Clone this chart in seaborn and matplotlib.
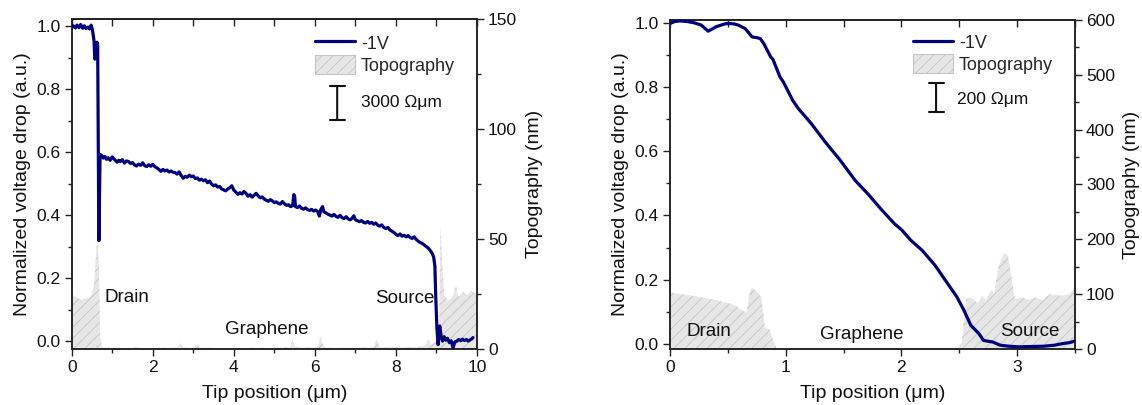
import matplotlib
matplotlib.use("Agg")
import matplotlib.pyplot as plt
import seaborn as sns
from matplotlib.patches import Patch
from matplotlib.ticker import MultipleLocator

# ---------------- data: left panel ----------------
pos_a = [0.00, 0.04, 0.09, 0.13, 0.18, 0.22, 0.27, 0.31, 0.35, 0.40, 0.44, 0.48, 0.51,
         0.55, 0.57, 0.60, 0.62, 0.64, 0.67, 0.70,
         0.74, 0.78, 0.82, 0.86, 0.90, 0.95, 1.00, 1.04, 1.08, 1.12, 1.16, 1.20, 1.25,
         1.30, 1.35, 1.40, 1.45, 1.50, 1.55, 1.60, 1.65, 1.70, 1.75, 1.80, 1.85, 1.90,
         1.95, 2.00, 2.05, 2.10, 2.15, 2.20, 2.25, 2.30, 2.35, 2.40, 2.45, 2.50, 2.55,
         2.60, 2.65, 2.70, 2.75, 2.80, 2.85, 2.90, 2.95, 3.00, 3.05, 3.10, 3.15, 3.20,
         3.25, 3.30, 3.35, 3.40, 3.45, 3.50, 3.55, 3.60, 3.65, 3.70, 3.75, 3.80, 3.85,
         3.90, 3.95, 4.00, 4.05, 4.10, 4.15, 4.20, 4.25, 4.30, 4.35, 4.40, 4.45, 4.50,
         4.55, 4.60, 4.65, 4.70, 4.75, 4.80, 4.85, 4.90, 4.95, 5.00, 5.05, 5.10, 5.15,
         5.20, 5.25, 5.30, 5.35, 5.40, 5.45, 5.48, 5.50, 5.52, 5.57, 5.62, 5.67, 5.72,
         5.77, 5.82, 5.87, 5.92, 5.97, 6.02, 6.07, 6.11, 6.15, 6.19, 6.22, 6.27, 6.32,
         6.37, 6.42, 6.47, 6.52, 6.57, 6.62, 6.67, 6.72, 6.77, 6.82, 6.87, 6.92, 6.96,
         7.00, 7.05, 7.10, 7.15, 7.20, 7.25, 7.30, 7.35, 7.40, 7.45, 7.50, 7.55, 7.60,
         7.65, 7.70, 7.75, 7.80, 7.85, 7.90, 7.95, 8.00, 8.05, 8.10, 8.15, 8.20, 8.25,
         8.30, 8.35, 8.40, 8.45, 8.50, 8.55, 8.60, 8.65, 8.70, 8.75, 8.80, 8.85, 8.90,
         8.93, 8.96, 8.98, 9.01, 9.04, 9.08, 9.12, 9.15, 9.19, 9.23, 9.27, 9.32, 9.36,
         9.41, 9.45, 9.50, 9.55, 9.60, 9.64, 9.69, 9.74, 9.78, 9.83, 9.87, 9.90]
vdrop_a = [0.995, 1.002, 0.995, 1.004, 0.996, 1.006, 0.994, 1.002, 0.993, 0.998, 0.992, 1.004, 0.990,
           0.955, 0.896, 0.930, 0.950, 0.945, 0.320, 0.594,
           0.590, 0.582, 0.587, 0.578, 0.583, 0.575, 0.586, 0.580, 0.574, 0.569, 0.575, 0.571, 0.577,
           0.566, 0.573, 0.571, 0.565, 0.568, 0.560, 0.557, 0.563, 0.559, 0.567, 0.558, 0.555, 0.561,
           0.556, 0.562, 0.555, 0.551, 0.546, 0.540, 0.546, 0.541, 0.544, 0.538, 0.541, 0.537, 0.536,
           0.531, 0.538, 0.527, 0.518, 0.524, 0.521, 0.528, 0.523, 0.525, 0.517, 0.519, 0.512, 0.515,
           0.510, 0.513, 0.504, 0.509, 0.500, 0.494, 0.497, 0.490, 0.492, 0.484, 0.481, 0.478, 0.484,
           0.488, 0.494, 0.480, 0.474, 0.467, 0.472, 0.468, 0.476, 0.470, 0.461, 0.466, 0.458, 0.464,
           0.470, 0.462, 0.456, 0.459, 0.452, 0.448, 0.445, 0.450, 0.446, 0.441, 0.443, 0.438, 0.436,
           0.444, 0.437, 0.432, 0.434, 0.428, 0.431, 0.466, 0.462, 0.428, 0.425, 0.430, 0.423, 0.420,
           0.424, 0.418, 0.416, 0.419, 0.414, 0.417, 0.412, 0.398, 0.420, 0.428, 0.412, 0.408, 0.404,
           0.401, 0.398, 0.403, 0.397, 0.394, 0.400, 0.393, 0.390, 0.396, 0.389, 0.386, 0.391, 0.399,
           0.386, 0.383, 0.380, 0.384, 0.378, 0.376, 0.381, 0.375, 0.378, 0.372, 0.376, 0.369, 0.366,
           0.370, 0.362, 0.358, 0.362, 0.354, 0.350, 0.346, 0.340, 0.336, 0.341, 0.334, 0.337, 0.332,
           0.336, 0.330, 0.327, 0.332, 0.324, 0.318, 0.314, 0.311, 0.306, 0.301, 0.296, 0.288, 0.278,
           0.268, 0.240, 0.150, 0.043, -0.010, 0.049, 0.012, 0.001, 0.015, 0.004, 0.010, -0.004, 0.002,
           -0.020, -0.002, 0.001, 0.006, 0.002, 0.007, 0.003, 0.006, 0.001, 0.005, 0.008, 0.012]

topo_x_a = [0.00, 0.10, 0.18, 0.27, 0.35, 0.42, 0.48, 0.55, 0.60, 0.63, 0.67, 0.70, 0.75,
            1.00, 1.50, 1.58, 1.66, 2.00, 2.60, 2.68, 2.76, 3.00, 3.08, 3.16, 4.00, 5.00,
            5.38, 5.45, 5.52, 6.00, 6.08, 6.14, 6.20, 6.30, 7.00, 7.45, 7.52, 7.60, 8.50,
            8.72, 8.80, 8.88, 8.97, 9.06, 9.10, 9.15, 9.19, 9.28, 9.36, 9.41, 9.48, 9.54,
            9.60, 9.67, 9.76, 9.85, 9.93, 10.00]
topo_a = [24.7, 23.8, 22.9, 22.5, 22.9, 23.5, 24.4, 29.0, 42.8, 52.0, 40.0, 6.0, 0.8,
          0.5, 0.5, 1.2, 0.5, 0.5, 0.6, 2.7, 0.6, 0.6, 2.3, 0.6, 0.5, 0.6,
          0.8, 4.3, 0.8, 0.6, 1.5, 6.1, 1.5, 0.6, 0.6, 0.8, 4.6, 0.8, 0.8,
          1.5, 4.6, 2.0, 3.0, 6.0, 56.5, 36.7, 24.4, 22.0, 23.0, 24.4, 29.0, 23.7,
          24.5, 26.0, 24.4, 26.7, 25.5, 26.0]

# ---------------- data: right panel ----------------
pos_b = [0.00, 0.04, 0.085, 0.15, 0.21, 0.27, 0.33, 0.40, 0.45, 0.49, 0.55, 0.59, 0.65,
         0.71, 0.75, 0.78, 0.81, 0.87, 0.89, 0.95, 0.98, 1.06, 1.11, 1.22, 1.34, 1.47,
         1.60, 1.72, 1.82, 1.94, 2.005, 2.08, 2.18, 2.29, 2.38, 2.48, 2.54, 2.60, 2.67,
         2.71, 2.79, 2.855, 2.93, 3.01, 3.12, 3.23, 3.32, 3.39, 3.45, 3.50]
vdrop_b = [0.997, 1.003, 1.005, 1.003, 0.999, 0.992, 0.973, 0.987, 0.993, 0.997, 0.996, 0.992, 0.981,
           0.955, 0.953, 0.950, 0.935, 0.893, 0.885, 0.831, 0.815, 0.758, 0.732, 0.686, 0.629, 0.572,
           0.509, 0.463, 0.421, 0.374, 0.354, 0.323, 0.291, 0.245, 0.198, 0.146, 0.105, 0.058, 0.032,
           0.011, 0.006, -0.004, -0.007, -0.009, -0.008, -0.007, -0.004, 0.001, 0.004, 0.009]

topo_x_b = [0.00, 0.10, 0.20, 0.30, 0.40, 0.55, 0.66, 0.69, 0.71, 0.76, 0.79, 0.82, 0.86,
            0.89, 0.92, 0.95, 1.50, 2.00, 2.48, 2.52, 2.56, 2.60, 2.66, 2.70, 2.73, 2.78,
            2.80, 2.84, 2.89, 2.92, 2.95, 2.98, 3.05, 3.10, 3.16, 3.22, 3.28, 3.33, 3.38,
            3.45, 3.50]
topo_b = [103, 100, 97, 93, 89, 81, 66, 106, 112, 103, 94, 39, 36,
          17, 2, 1, 1, 1, 1, 11, 91, 94, 84, 97, 89, 109,
          100, 152, 175, 170, 133, 91, 94, 89, 94, 89, 100, 99, 97,
          100, 112]

line_label = "-1V"
topo_label = "Topography"
scale_labels = ["3000 Ωμm", "200 Ωμm"]
region_labels = ["Drain", "Graphene", "Source"]

# ---------------- style ----------------
sns.set_theme(style="ticks")
plt.rcParams['font.family'] = ['Liberation Sans', 'DejaVu Sans']
plt.rcParams['hatch.linewidth'] = 0.6
plt.rcParams['axes.linewidth'] = 1.1
plt.rcParams['axes.edgecolor'] = '#222222'

LINE_C = '#00007f'
FACE_C = '#e6e6e6'
HATCH_C = '#c4c4c4'
TICK_FS = 12.5
LAB_FS = 14
LEG_FS = 13

fig = plt.figure(figsize=(11.42, 4.05), dpi=100)
axA = fig.add_axes([0.0628, 0.1383, 0.4177 - 0.0628, 0.9519 - 0.1383])
axB = fig.add_axes([0.5867, 0.1383, 0.9413 - 0.5867, 0.9506 - 0.1383])


def panel(ax, x, y, tx, ty, xlim, ylim, tlim, xmaj, tmaj, tmin, scale_txt,
          leg_anchor, sbar, txts):
    tw = ax.twinx()
    tw.fill_between(tx, ty, 0, facecolor=FACE_C, edgecolor=HATCH_C,
                    hatch='///', linewidth=0, zorder=1)
    sns.lineplot(x=x, y=y, ax=ax, color=LINE_C, lw=2.3, sort=False,
                 estimator=None, zorder=3)
    ax.set_zorder(tw.get_zorder() + 1)
    ax.patch.set_visible(False)

    ax.set_xlim(*xlim)
    ax.set_ylim(*ylim)
    tw.set_ylim(*tlim)
    ax.xaxis.set_major_locator(MultipleLocator(xmaj))
    ax.xaxis.set_minor_locator(MultipleLocator(xmaj / 2))
    ax.yaxis.set_major_locator(MultipleLocator(0.2))
    ax.yaxis.set_minor_locator(MultipleLocator(0.1))
    tw.yaxis.set_major_locator(MultipleLocator(tmaj))
    tw.yaxis.set_minor_locator(MultipleLocator(tmin))
    ax.yaxis.set_major_formatter(plt.FuncFormatter(lambda v, p: f"{v:.1f}"))

    for a in (ax, tw):
        for s in a.spines.values():
            s.set_visible(True)
            s.set_linewidth(1.1)
            s.set_color('#222222')
    ax.tick_params(axis='both', which='major', direction='out', length=5,
                   width=1.0, labelsize=TICK_FS, colors='#222222', pad=3,
                   labelcolor='#111111', top=False)
    ax.tick_params(axis='both', which='minor', direction='out', length=3,
                   width=1.0, colors='#222222', top=False)
    tw.tick_params(axis='y', which='major', direction='out', length=5,
                   width=1.0, labelsize=TICK_FS, colors='#222222', pad=3,
                   labelcolor='#111111')
    tw.tick_params(axis='y', which='minor', direction='out', length=3,
                   width=1.0, colors='#222222')

    sec = ax.secondary_xaxis('top')
    sec.xaxis.set_major_locator(MultipleLocator(xmaj / 2))
    sec.tick_params(axis='x', which='major', direction='in', length=5,
                    width=1.0, labeltop=False, colors='#222222')
    sec.spines['top'].set_linewidth(1.1)
    sec.spines['top'].set_color('#222222')

    ax.set_xlabel("Tip position (μm)", fontsize=LAB_FS, labelpad=7, color='#111111')
    ax.set_ylabel("Normalized voltage drop (a.u.)", fontsize=LAB_FS, labelpad=4,
                  color='#111111')
    tw.set_ylabel("Topography (nm)", fontsize=LAB_FS, labelpad=6, color='#111111')

    line = ax.get_lines()[0]
    patch = Patch(facecolor=FACE_C, edgecolor=HATCH_C, hatch='///', linewidth=0.8)
    ax.legend([line, patch], [line_label, topo_label], loc='upper left',
              bbox_to_anchor=leg_anchor, frameon=False,
              fontsize=LEG_FS, handlelength=2.2, handleheight=1.2,
              handletextpad=0.35, labelspacing=0.12, borderaxespad=0,
              borderpad=0)

    ax.annotate('', xy=(sbar[0], sbar[1]), xytext=(sbar[0], sbar[2]),
                xycoords='axes fraction',
                arrowprops=dict(arrowstyle='|-|, widthA=0.45, widthB=0.45',
                                lw=1.5, color='#111111', shrinkA=0, shrinkB=0))
    ax.text(sbar[3], sbar[4], scale_txt, transform=ax.transAxes,
            fontsize=LEG_FS - 0.5, va='center', ha='left', color='#111111')
    for (s, xx, yy, ha) in txts:
        ax.text(xx, yy, s, fontsize=13.5, ha=ha, va='center', color='#111111')
    return tw


twA = panel(axA, pos_a, vdrop_a, topo_x_a, topo_a, (0, 10), (-0.024, 1.022),
            (0, 150), 2, 50, 25, scale_labels[0], (0.60, 0.957),
            (0.655, 0.798, 0.695, 0.714, 0.747),
            [(region_labels[0], 0.8, 0.138, 'left'),
             (region_labels[1], 3.79, 0.037, 'left'),
             (region_labels[2], 8.95, 0.135, 'right')])
twB = panel(axB, pos_b, vdrop_b, topo_x_b, topo_b, (0, 3.5), (-0.0156, 1.0078),
            (0, 600), 1, 100, 50, scale_labels[1], (0.60, 0.961),
            (0.657, 0.808, 0.72, 0.709, 0.757),
            [(region_labels[0], 0.14, 0.04, 'left'),
             (region_labels[1], 1.30, 0.031, 'left'),
             (region_labels[2], 2.85, 0.04, 'left')])

fig.savefig("out.png", dpi=100)
